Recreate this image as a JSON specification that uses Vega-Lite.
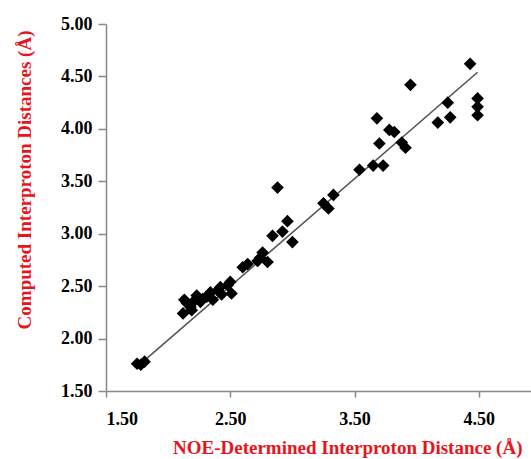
{
  "$schema": "https://vega.github.io/schema/vega-lite/v6.json",
  "width": 425,
  "height": 367,
  "autosize": {"type": "none"},
  "padding": {"left": 106, "top": 24, "right": 0, "bottom": 68},
  "background": "white",
  "config": {"view": {"stroke": null}},
  "datasets": {
    "pts": [
      {"noe": 1.75, "comp": 1.76}, {"noe": 1.78, "comp": 1.75}, {"noe": 1.81, "comp": 1.78},
      {"noe": 2.12, "comp": 2.24}, {"noe": 2.15, "comp": 2.34}, {"noe": 2.13, "comp": 2.37},
      {"noe": 2.19, "comp": 2.27}, {"noe": 2.23, "comp": 2.41}, {"noe": 2.26, "comp": 2.35},
      {"noe": 2.31, "comp": 2.40}, {"noe": 2.36, "comp": 2.37}, {"noe": 2.40, "comp": 2.46},
      {"noe": 2.43, "comp": 2.42}, {"noe": 2.48, "comp": 2.51}, {"noe": 2.51, "comp": 2.43},
      {"noe": 2.42, "comp": 2.49}, {"noe": 2.50, "comp": 2.54}, {"noe": 2.18, "comp": 2.30},
      {"noe": 2.28, "comp": 2.38}, {"noe": 2.34, "comp": 2.44}, {"noe": 2.21, "comp": 2.36},
      {"noe": 2.60, "comp": 2.68}, {"noe": 2.64, "comp": 2.71}, {"noe": 2.74, "comp": 2.77},
      {"noe": 2.76, "comp": 2.82}, {"noe": 2.80, "comp": 2.73}, {"noe": 2.72, "comp": 2.74},
      {"noe": 2.84, "comp": 2.98}, {"noe": 2.92, "comp": 3.02}, {"noe": 2.96, "comp": 3.12},
      {"noe": 3.00, "comp": 2.92}, {"noe": 2.88, "comp": 3.44}, {"noe": 3.25, "comp": 3.29},
      {"noe": 3.29, "comp": 3.24}, {"noe": 3.33, "comp": 3.37},
      {"noe": 3.54, "comp": 3.61}, {"noe": 3.65, "comp": 3.65}, {"noe": 3.73, "comp": 3.65},
      {"noe": 3.68, "comp": 4.10}, {"noe": 3.70, "comp": 3.86}, {"noe": 3.78, "comp": 3.99},
      {"noe": 3.82, "comp": 3.97}, {"noe": 3.88, "comp": 3.87}, {"noe": 3.91, "comp": 3.82},
      {"noe": 3.95, "comp": 4.42}, {"noe": 4.17, "comp": 4.06}, {"noe": 4.25, "comp": 4.25},
      {"noe": 4.27, "comp": 4.11}, {"noe": 4.43, "comp": 4.62}, {"noe": 4.49, "comp": 4.29},
      {"noe": 4.49, "comp": 4.21}, {"noe": 4.49, "comp": 4.13}
    ],
    "fit": [
      {"noe": 1.74, "comp": 1.72},
      {"noe": 4.49, "comp": 4.54}
    ]
  },
  "layer": [
    {
      "data": {"name": "fit"},
      "mark": {"type": "line", "color": "#555555", "strokeWidth": 1.6},
      "encoding": {
        "x": {"field": "noe", "type": "quantitative"},
        "y": {"field": "comp", "type": "quantitative"}
      }
    },
    {
      "data": {"name": "pts"},
      "mark": {"type": "point", "shape": "diamond", "filled": true, "color": "black", "size": 160, "opacity": 1},
      "encoding": {
        "x": {
          "field": "noe", "type": "quantitative",
          "scale": {"domain": [1.5, 4.92], "nice": false, "zero": false},
          "axis": {
            "title": "NOE-Determined Interproton Distance (Å)",
            "values": [1.5, 2.5, 3.5, 4.5],
            "format": ".2f",
            "grid": false,
            "domainColor": "#888888", "domainWidth": 1.5,
            "tickColor": "#888888", "tickWidth": 1.5, "tickSize": 6,
            "labelFont": "Liberation Serif", "labelFontWeight": "bold", "labelFontSize": 18, "labelColor": "black",
            "labelPadding": 13,
            "titleFont": "Liberation Serif", "titleFontWeight": "bold", "titleFontSize": 19, "titleColor": "#e8141c",
            "titleAnchor": "end", "titleX": 416, "titleY": 62, "titleBaseline": "alphabetic"
          }
        },
        "y": {
          "field": "comp", "type": "quantitative",
          "scale": {"domain": [1.5, 5.0], "nice": false, "zero": false},
          "axis": {
            "title": "Computed Interproton Distances (Å)",
            "values": [1.5, 2.0, 2.5, 3.0, 3.5, 4.0, 4.5, 5.0],
            "format": ".2f",
            "grid": false,
            "domainColor": "#888888", "domainWidth": 1.5,
            "tickColor": "#888888", "tickWidth": 1.5, "tickSize": 8,
            "labelFont": "Liberation Serif", "labelFontWeight": "bold", "labelFontSize": 18, "labelColor": "black",
            "labelPadding": 6,
            "titleFont": "Liberation Serif", "titleFontWeight": "bold", "titleFontSize": 19, "titleColor": "#e8141c",
            "titleAnchor": "end", "titleY": 6, "titlePadding": 26
          }
        }
      }
    }
  ]
}
